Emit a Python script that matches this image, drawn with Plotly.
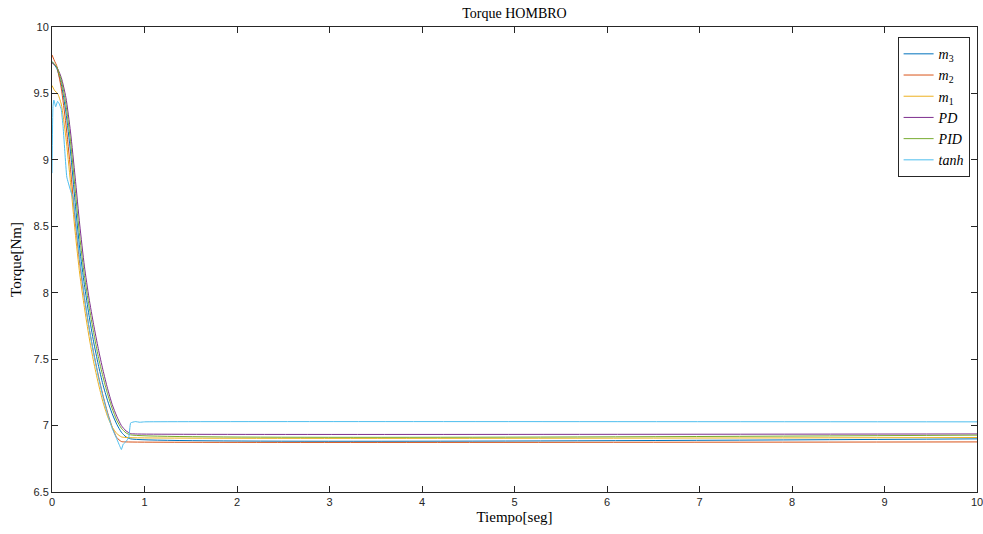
import plotly.graph_objects as go

# Time samples (s) and torque (Nm) for each controller
t_m3 = [0, 0.05, 0.1, 0.15, 0.2, 0.25, 0.3, 0.35, 0.4, 0.45, 0.5, 0.55, 0.6, 0.65, 0.7, 0.75, 0.8, 0.85, 10]
v_m3 = [9.74, 9.69, 9.57, 9.36, 9.06, 8.68, 8.33, 8.06, 7.83, 7.63, 7.46, 7.31, 7.19, 7.09, 7.01, 6.95, 6.915, 6.90, 6.90]

t_m2 = [0, 0.03, 0.05, 0.1, 0.15, 0.2, 0.25, 0.3, 0.35, 0.4, 0.45, 0.5, 0.55, 0.6, 0.65, 0.7, 0.75, 0.8, 10]
v_m2 = [9.79, 9.74, 9.71, 9.54, 9.27, 8.93, 8.55, 8.22, 7.96, 7.74, 7.55, 7.38, 7.23, 7.10, 6.99, 6.91, 6.88, 6.877, 6.877]

t_m1 = [0, 0.03, 0.06, 0.1, 0.15, 0.2, 0.25, 0.3, 0.35, 0.4, 0.45, 0.5, 0.55, 0.6, 0.65, 0.7, 0.75, 0.8, 10]
v_m1 = [9.56, 9.52, 9.50, 9.42, 9.17, 8.83, 8.46, 8.14, 7.89, 7.67, 7.48, 7.32, 7.18, 7.07, 6.99, 6.94, 6.915, 6.91, 6.91]

t_pd = [0, 0.05, 0.1, 0.15, 0.2, 0.25, 0.3, 0.35, 0.4, 0.45, 0.5, 0.55, 0.6, 0.65, 0.7, 0.75, 0.8, 0.85, 0.9, 10]
v_pd = [9.73, 9.70, 9.62, 9.47, 9.21, 8.87, 8.51, 8.20, 7.96, 7.76, 7.58, 7.42, 7.28, 7.16, 7.07, 7.00, 6.96, 6.94, 6.937, 6.937]

t_pid = [0, 0.05, 0.1, 0.15, 0.2, 0.25, 0.3, 0.35, 0.4, 0.45, 0.5, 0.55, 0.6, 0.65, 0.7, 0.75, 0.8, 0.85, 10]
v_pid = [9.74, 9.70, 9.60, 9.42, 9.14, 8.78, 8.42, 8.13, 7.90, 7.70, 7.52, 7.37, 7.24, 7.13, 7.04, 6.98, 6.945, 6.93, 6.928]

t_tanh = [0, 0.01, 0.02, 0.04, 0.06, 0.08, 0.1, 0.12, 0.14, 0.16, 0.2, 0.23, 0.27, 0.3, 0.35, 0.4, 0.45, 0.5, 0.55, 0.6, 0.65,
          0.7, 0.73, 0.75, 0.77, 0.8, 0.83, 0.85, 0.9, 0.95, 1.0, 10]
v_tanh = [8.90, 9.40, 9.45, 9.40, 9.44, 9.42, 9.38, 9.25, 9.05, 8.87, 8.77, 8.70, 8.45, 8.25, 7.97, 7.74, 7.54, 7.37, 7.22, 7.09, 6.98,
          6.90, 6.85, 6.82, 6.86, 6.88, 6.91, 7.02, 7.03, 7.025, 7.028, 7.028]

x_ticks = [0, 1, 2, 3, 4, 5, 6, 7, 8, 9, 10]
y_ticks = [6.5, 7, 7.5, 8, 8.5, 9, 9.5, 10]
y_tick_text = ["6.5", "7", "7.5", "8", "8.5", "9", "9.5", "10"]

series = [
    ("<i>m</i><sub>3</sub>", t_m3, v_m3, "#0072BD", 0.6),
    ("<i>m</i><sub>2</sub>", t_m2, v_m2, "#D95319", 0.6),
    ("<i>m</i><sub>1</sub>", t_m1, v_m1, "#EDB120", 0.6),
    ("<i>PD</i>", t_pd, v_pd, "#7E2F8E", 0.6),
    ("<i>PID</i>", t_pid, v_pid, "#77AC30", 0.6),
    ("<i>tanh</i>", t_tanh, v_tanh, "#4DBEEE", 0.3),
]

fig = go.Figure()
for name, t, v, color, smooth in series:
    fig.add_trace(go.Scatter(x=t, y=v, mode="lines", name=name,
                             line=dict(color=color, width=1, shape="spline", smoothing=smooth)))

axis_common = dict(
    showline=True, linecolor="#262626", linewidth=1, mirror="ticks",
    ticks="inside", ticklen=6, tickcolor="#262626", tickwidth=1,
    showgrid=False, zeroline=False, ticklabeloverflow="allow", automargin=False,
    tickfont=dict(family="Liberation Sans, Arial, sans-serif", size=11, color="#262626"),
)

fig.update_layout(
    width=983, height=534,
    margin=dict(l=52, r=6, t=27, b=42, autoexpand=False),
    paper_bgcolor="white", plot_bgcolor="white",
    title=dict(text="Torque HOMBRO", x=0.5, xref="paper", xanchor="center", y=0.985, yanchor="top",
               font=dict(family="Liberation Serif, DejaVu Serif, serif", size=14, color="#000000")),
    xaxis=dict(range=[0, 10], tickvals=x_ticks,
               title=dict(text="Tiempo[seg]", standoff=4,
                          font=dict(family="Liberation Serif, DejaVu Serif, serif", size=15, color="#000000")),
               **axis_common),
    yaxis=dict(range=[6.5, 10], tickvals=y_ticks, ticktext=y_tick_text,
               title=dict(text="Torque[Nm]", standoff=8,
                          font=dict(family="Liberation Serif, DejaVu Serif, serif", size=15, color="#000000")),
               **axis_common),
    legend=dict(x=0.992, y=0.978, xanchor="right", yanchor="top",
                bgcolor="white", bordercolor="#262626", borderwidth=1,
                font=dict(family="Liberation Serif, DejaVu Serif, serif", size=14, color="#000000"),
                tracegroupgap=0, itemwidth=30),
    showlegend=True,
)

fig.write_html("out.html")
